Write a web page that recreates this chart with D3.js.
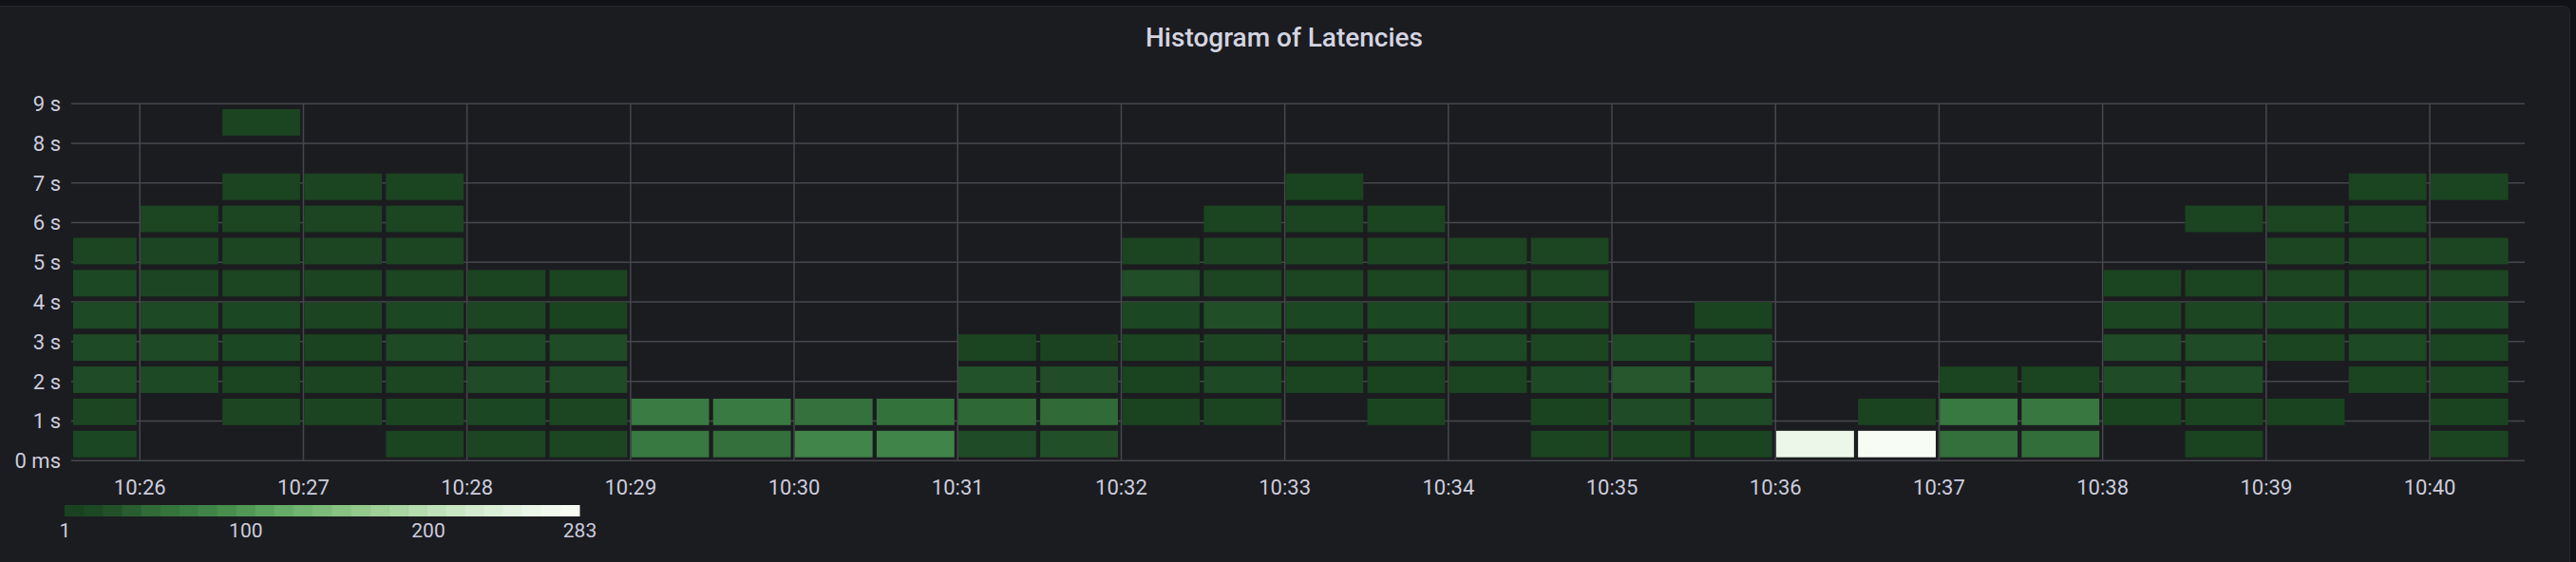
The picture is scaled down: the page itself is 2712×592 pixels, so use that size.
<!DOCTYPE html>
<html>
<head>
<meta charset="utf-8">
<script src="https://cdn.jsdelivr.net/npm/d3@7"></script>
<style>
  html, body { margin: 0; padding: 0; background: #111217; }
  svg { display: block; }
  text { font-family: Roboto, Inter, "Noto Sans", sans-serif; }
</style>
</head>
<body>
<svg id="chart" width="2712" height="592"></svg>
<script>
// ---------------- data ----------------
const chartTitle = "Histogram of Latencies";

// start time of each 30 s time bucket
const timeBuckets = [
  "10:25:30","10:26:00","10:26:30","10:27:00","10:27:30","10:28:00","10:28:30",
  "10:29:00","10:29:30","10:30:00","10:30:30","10:31:00","10:31:30","10:32:00",
  "10:32:30","10:33:00","10:33:30","10:34:00","10:34:30","10:35:00","10:35:30",
  "10:36:00","10:36:30","10:37:00","10:37:30","10:38:00","10:38:30","10:39:00",
  "10:39:30","10:40:00"
];
const timeBucketSeconds = 30;
const visibleTimeRange = ["10:25:35", "10:40:35"];

// latency buckets (seconds): 11 buckets of equal size
const latencyBucketSeconds = 0.811;
const latencyBucketCount = 11;

// counts per time bucket, per latency bucket (lowest first); 0 = no cell
const counts = [
  [10, 7,16,15,13,12, 7, 0, 0, 0, 0],
  [ 0, 0,13,15,13, 9, 9, 7, 0, 0, 0],
  [ 0, 7, 4,10,10, 7, 7, 7, 4, 0, 4],
  [ 0, 5, 5, 2, 4, 5, 7, 7, 4, 0, 0],
  [ 5, 5, 7,13,10, 7, 7, 7, 4, 0, 0],
  [ 7,10,16,13, 7, 5, 0, 0, 0, 0, 0],
  [ 7, 7,16,16, 2, 4, 0, 0, 0, 0, 0],
  [63,66, 0, 0, 0, 0, 0, 0, 0, 0, 0],
  [50,65, 0, 0, 0, 0, 0, 0, 0, 0, 0],
  [80,52, 0, 0, 0, 0, 0, 0, 0, 0, 0],
  [79,53, 0, 0, 0, 0, 0, 0, 0, 0, 0],
  [16,42,24, 5, 0, 0, 0, 0, 0, 0, 0],
  [22,44,19, 3, 0, 0, 0, 0, 0, 0, 0],
  [ 0, 2, 2, 4,10,20, 4, 0, 0, 0, 0],
  [ 0, 4,13, 7,20, 7, 7, 4, 0, 0, 0],
  [ 0, 0, 4, 5,10, 7, 7, 4, 2, 0, 0],
  [ 0, 4, 2,13,10, 7, 7, 4, 0, 0, 0],
  [ 0, 0, 5,13,10, 7, 7, 0, 0, 0, 0],
  [ 4, 2,13, 7, 5, 7, 7, 0, 0, 0, 0],
  [ 4,16,29,13, 0, 0, 0, 0, 0, 0, 0],
  [ 5,16,29,13, 2, 0, 0, 0, 0, 0, 0],
  [265,0, 0, 0, 0, 0, 0, 0, 0, 0, 0],
  [283,2, 0, 0, 0, 0, 0, 0, 0, 0, 0],
  [50,63, 4, 0, 0, 0, 0, 0, 0, 0, 0],
  [48,62, 4, 0, 0, 0, 0, 0, 0, 0, 0],
  [ 0, 2,16,16, 7, 5, 0, 0, 0, 0, 0],
  [ 2, 5,16,16, 7, 4, 0, 4, 0, 0, 0],
  [ 0, 2, 0, 4,10, 7, 7, 7, 0, 0, 0],
  [ 0, 0, 4,13,10, 7, 7, 4, 4, 0, 0],
  [ 4, 2, 5, 5,10, 7, 7, 0, 4, 0, 0]
];

const xTickLabels = ["10:26","10:27","10:28","10:29","10:30","10:31","10:32",
                     "10:33","10:34","10:35","10:36","10:37","10:38","10:39","10:40"];
const yTickValues = [0, 1, 2, 3, 4, 5, 6, 7, 8, 9];
const yTickLabels = ["0 ms","1 s","2 s","3 s","4 s","5 s","6 s","7 s","8 s","9 s"];
const countRange = [1, 283];
const legendTicks = [1, 100, 200, 283];

// ---------------- layout / style ----------------
const W = 2712, H = 592;
const plot = { left: 75, right: 2658, top: 108.7, bottom: 484.7 };
const textColor = "#ccccdc";
const gridColor = "#46474c";
const panelBg = "#1b1c20";
const fontFamily = "Roboto, Inter, sans-serif";

const colorStops = [
  [0.00, "#1a4220"], [0.04, "#1d4824"], [0.08, "#225129"], [0.12, "#2a5e31"],
  [0.16, "#316d39"], [0.20, "#36753e"], [0.24, "#3b7c44"], [0.28, "#42854a"],
  [0.32, "#4a8f50"], [0.40, "#5ea863"], [0.50, "#7cbb77"], [0.625, "#a1d29b"],
  [0.75, "#c4e4be"], [0.875, "#e2f2de"], [1.00, "#f7fcf5"]
];

const parseT = d3.timeParse("%H:%M:%S");
const parseM = d3.timeParse("%H:%M");

const svg = d3.select("#chart");

// panel
svg.append("rect").attr("x", 0).attr("y", 0).attr("width", W).attr("height", H).attr("fill", "#111217");
svg.append("rect")
  .attr("x", -6).attr("y", 6.5).attr("width", 2711.5).attr("height", 620)
  .attr("rx", 6).attr("fill", panelBg)
  .attr("stroke", "#25262b").attr("stroke-width", 1);

// title
svg.append("text")
  .attr("x", 1352).attr("y", 49)
  .attr("text-anchor", "middle")
  .attr("fill", "#d4d4e0")
  .attr("font-family", fontFamily)
  .attr("font-size", 28).attr("font-weight", 500)
  .text(chartTitle);

// scales
const x = d3.scaleTime()
  .domain(visibleTimeRange.map(parseT))
  .range([plot.left, plot.right]);
const y = d3.scaleLinear()
  .domain([0, yTickValues[yTickValues.length - 1]])
  .range([plot.bottom, plot.top]);

const fracColor = d3.scaleLinear()
  .domain(colorStops.map(d => d[0]))
  .range(colorStops.map(d => d[1]))
  .interpolate(d3.interpolateRgb);
const color = v => fracColor((v - countRange[0]) / (countRange[1] - countRange[0]));

// grid
const xTicks = xTickLabels.map(parseM);
svg.append("g")
  .attr("transform", `translate(0,${plot.bottom})`)
  .call(d3.axisBottom(x).tickValues(xTicks).tickSize(-(plot.bottom - plot.top)).tickFormat(""))
  .call(g => g.select(".domain").remove())
  .call(g => g.selectAll("line").attr("stroke", gridColor).attr("stroke-width", 1.5));

svg.append("g")
  .attr("transform", `translate(${plot.left},0)`)
  .call(d3.axisLeft(y).tickValues(yTickValues).tickSize(-(plot.right - plot.left)).tickFormat(""))
  .call(g => g.select(".domain").remove())
  .call(g => g.selectAll("line").attr("stroke", gridColor).attr("stroke-width", 1.5));

// cells
const cells = [];
counts.forEach((col, i) => {
  const t0 = parseT(timeBuckets[i]);
  const t1 = new Date(t0.getTime() + timeBucketSeconds * 1000);
  col.forEach((v, j) => {
    if (v > 0) cells.push({ t0, t1, lo: j * latencyBucketSeconds, hi: (j + 1) * latencyBucketSeconds, v });
  });
});

svg.append("g").selectAll("rect")
  .data(cells)
  .join("rect")
  .attr("x", d => Math.max(x(d.t0) + 1.3, plot.left + 2))
  .attr("width", d => x(d.t1) - 3 - Math.max(x(d.t0) + 1.3, plot.left + 2))
  .attr("y", d => y(d.hi) + 3)
  .attr("height", d => y(d.lo) - y(d.hi) - 6)
  .attr("fill", d => color(d.v));

// axes labels
const xAxis = svg.append("g")
  .attr("transform", `translate(0,${plot.bottom})`)
  .call(d3.axisBottom(x).tickValues(xTicks).tickSize(0).tickFormat((d, i) => xTickLabels[i]))
  .call(g => g.select(".domain").remove());
xAxis.selectAll("text")
  .attr("dy", null).attr("y", 36)
  .attr("fill", textColor).attr("font-size", 22).attr("font-family", fontFamily);

const yAxis = svg.append("g")
  .attr("transform", `translate(${plot.left},0)`)
  .call(d3.axisLeft(y).tickValues(yTickValues).tickSize(0).tickPadding(11).tickFormat((d, i) => yTickLabels[i]))
  .call(g => g.select(".domain").remove());
yAxis.selectAll("text")
  .attr("dy", "0.36em")
  .attr("fill", textColor).attr("font-size", 22).attr("font-family", fontFamily);

// legend
const legendX = d3.scaleLinear().domain(countRange).range([68, 610]);
const nBlocks = 27;
const blocks = d3.range(nBlocks).map(i => ({
  v0: countRange[0] + (countRange[1] - countRange[0]) * i / nBlocks,
  v1: countRange[0] + (countRange[1] - countRange[0]) * (i + 1) / nBlocks,
  c: countRange[0] + (countRange[1] - countRange[0]) * i / (nBlocks - 1)
}));
svg.append("g").selectAll("rect")
  .data(blocks)
  .join("rect")
  .attr("x", d => legendX(d.v0))
  .attr("width", d => legendX(d.v1) - legendX(d.v0) + 0.5)
  .attr("y", 532).attr("height", 12)
  .attr("fill", d => color(d.c));

const legendAxis = svg.append("g")
  .attr("transform", "translate(0,544)")
  .call(d3.axisBottom(legendX).tickValues(legendTicks).tickSize(0).tickFormat(d3.format("d")))
  .call(g => g.select(".domain").remove());
legendAxis.selectAll("text")
  .attr("dy", null).attr("y", 22)
  .attr("fill", textColor).attr("font-size", 21).attr("font-family", fontFamily);
</script>
</body>
</html>
